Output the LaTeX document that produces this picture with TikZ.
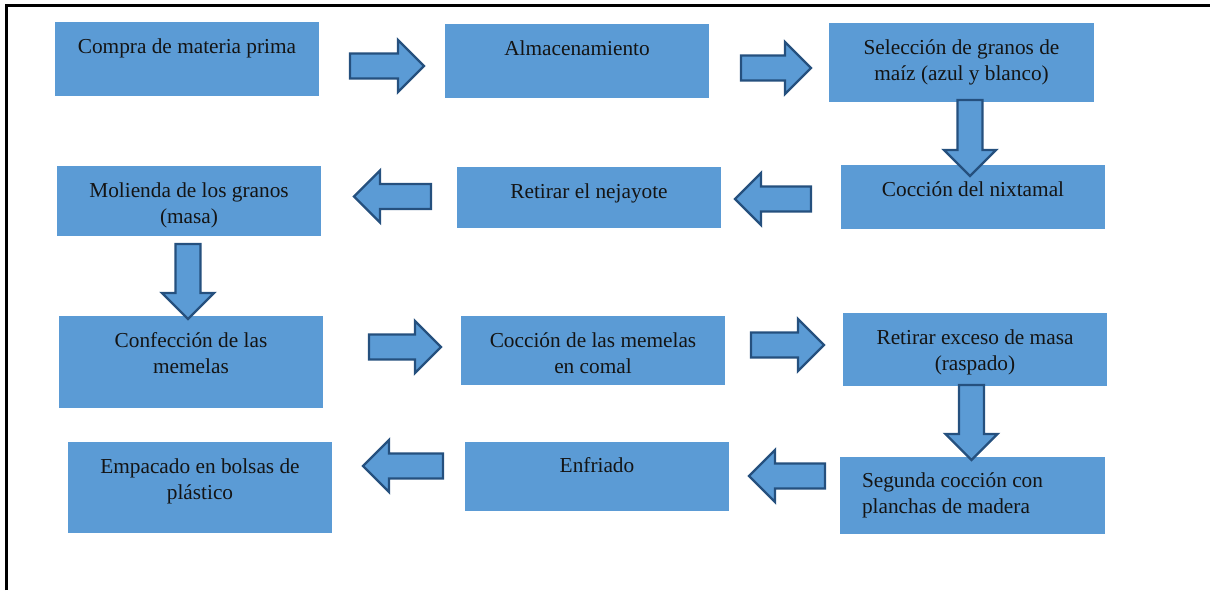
\documentclass[tikz,border=0pt]{standalone}
\usepackage{fontspec}
\setmainfont{Liberation Serif}
\usetikzlibrary{calc}

\definecolor{boxblue}{HTML}{5B9BD5}
\definecolor{arrowedge}{HTML}{25507E}

\tikzset{
  box/.style={rectangle, fill=boxblue, inner sep=0pt, minimum width=264pt},
  txt/.style={anchor=base, align=center, inner sep=0pt,
              font=\fontsize{21.3}{25.5}\selectfont, text=black!92},
  txtleft/.style={txt, anchor=base west, align=left},
  blockarrow/.style={fill=boxblue, draw=arrowedge, line width=2.4pt, line join=miter},
}

% Block arrow from tail coordinate #1 to tip coordinate #2
\newcommand\blockarrow[2]{%
  \draw[blockarrow] let \p1=(#1), \p2=(#2),
      \n1={veclen(\x2-\x1,\y2-\y1)},
      \n2={(\x2-\x1)/\n1}, \n3={(\y2-\y1)/\n1},
      \p3=({\x2-26pt*(\n2)},{\y2-26pt*(\n3)}) in
    ({\x1-12.5pt*(\n3)},{\y1+12.5pt*(\n2)})
    -- ({\x3-12.5pt*(\n3)},{\y3+12.5pt*(\n2)})
    -- ({\x3-26pt*(\n3)},{\y3+26pt*(\n2)})
    -- (\x2,\y2)
    -- ({\x3+26pt*(\n3)},{\y3-26pt*(\n2)})
    -- ({\x3+12.5pt*(\n3)},{\y3-12.5pt*(\n2)})
    -- ({\x1+12.5pt*(\n3)},{\y1-12.5pt*(\n2)})
    -- cycle;}

\begin{document}
\begin{tikzpicture}[x=1pt, y=-1pt]
  \useasboundingbox (0,0) rectangle (1210,590);

  % page frame
  \draw[line width=3pt] (6.5,590) -- (6.5,5.5) -- (1210,5.5);

  % process boxes
  \node[box, minimum height=74pt] (b1) at (187,59) {};
  \node[box, minimum height=74pt] (b2) at (577,61) {};
  \node[box, minimum width=265pt, minimum height=79pt] (b3) at (961.5,62.5) {};
  \node[box, minimum height=64pt] (b4) at (973,197) {};
  \node[box, minimum height=61pt] (b5) at (589,197.5) {};
  \node[box, minimum height=70pt] (b6) at (189,201) {};
  \node[box, minimum height=92pt] (b7) at (191,362) {};
  \node[box, minimum height=69pt] (b8) at (593,350.5) {};
  \node[box, minimum height=73pt] (b9) at (975,349.5) {};
  \node[box, minimum width=265pt, minimum height=77pt] (b10) at (972.5,495.5) {};
  \node[box, minimum height=69pt] (b11) at (597,476.5) {};
  \node[box, minimum height=91pt] (b12) at (200,487.5) {};

  % box texts (two-line texts are placed by the baseline of their last line)
  \node[txt] (t1) at ($(b1.north)+(0,32)$) {Compra de materia prima};
  \node[txt] (t2) at ($(b2.north)+(0,32)$) {Almacenamiento};
  \node[txt] (t3) at ($(b3.north)+(0,57.5)$) {Selección de granos de\\maíz (azul y blanco)};
  \node[txt] (t4) at ($(b4.north)+(0,32)$) {Cocción del nixtamal};
  \node[txt] (t5) at ($(b5.north)+(0,32)$) {Retirar el nejayote};
  \node[txt] (t6) at ($(b6.north)+(0,57.5)$) {Molienda de los granos\\(masa)};
  \node[txt] (t7) at ($(b7.north)+(0,57.5)$) {Confección de las\\memelas};
  \node[txt] (t8) at ($(b8.north)+(0,57.5)$) {Cocción de las memelas\\en comal};
  \node[txt] (t9) at ($(b9.north)+(0,57.5)$) {Retirar exceso de masa\\(raspado)};
  \node[txtleft] (t10) at ($(b10.north west)+(22,56.5)$) {Segunda cocción con\\planchas de madera};
  \node[txt] (t11) at ($(b11.north)+(0,31)$) {Enfriado};
  \node[txt] (t12) at ($(b12.north)+(0,57.5)$) {Empacado en bolsas de\\plástico};

  % arrow ends
  \coordinate (a1s) at (350,66);   \coordinate (a1e) at (424,66);
  \coordinate (a2s) at (741,68);   \coordinate (a2e) at (811,68);
  \coordinate (a3s) at (970,100);  \coordinate (a3e) at (970,176);
  \coordinate (a4s) at (811,199);  \coordinate (a4e) at (735,199);
  \coordinate (a5s) at (431,196.5);\coordinate (a5e) at (354,196.5);
  \coordinate (a6s) at (188,244);  \coordinate (a6e) at (188,319);
  \coordinate (a7s) at (369,347);  \coordinate (a7e) at (441,347);
  \coordinate (a8s) at (751,345);  \coordinate (a8e) at (824,345);
  \coordinate (a9s) at (971.5,385);\coordinate (a9e) at (971.5,460);
  \coordinate (a10s) at (825,476);  \coordinate (a10e) at (749,476);
  \coordinate (a11s) at (443,466);  \coordinate (a11e) at (363,466);

  % flow arrows
  \blockarrow{a1s}{a1e}
  \blockarrow{a2s}{a2e}
  \blockarrow{a3s}{a3e}
  \blockarrow{a4s}{a4e}
  \blockarrow{a5s}{a5e}
  \blockarrow{a6s}{a6e}
  \blockarrow{a7s}{a7e}
  \blockarrow{a8s}{a8e}
  \blockarrow{a9s}{a9e}
  \blockarrow{a10s}{a10e}
  \blockarrow{a11s}{a11e}
\end{tikzpicture}
\end{document}
